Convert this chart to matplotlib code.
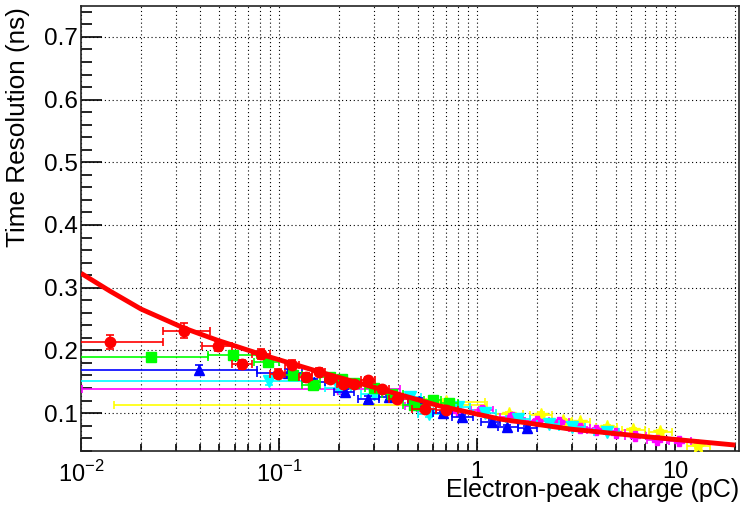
import numpy as np
import matplotlib
matplotlib.use("Agg")
import matplotlib.pyplot as plt
from matplotlib.ticker import FixedLocator, FixedFormatter, MultipleLocator, NullFormatter

plt.rcParams['font.family'] = ['Liberation Sans', 'DejaVu Sans']
plt.rcParams['mathtext.fontset'] = 'custom'
plt.rcParams['mathtext.rm'] = 'Liberation Sans'

# data: x, lower / upper bin edge, y, y error
red_x = [0.014, 0.033, 0.049, 0.065, 0.081, 0.0985, 0.116, 0.137, 0.159, 0.181, 0.21, 0.24, 0.28, 0.33, 0.395, 0.546, 0.70]
red_xlo = [0.005, 0.026, 0.041, 0.058, 0.073, 0.09, 0.107, 0.126, 0.147, 0.17, 0.195, 0.225, 0.26, 0.305, 0.36, 0.47, 0.62]
red_xhi = [0.026, 0.045, 0.058, 0.073, 0.09, 0.107, 0.126, 0.147, 0.17, 0.195, 0.225, 0.26, 0.305, 0.36, 0.45, 0.62, 0.80]
red_y = [0.213, 0.231, 0.207, 0.178, 0.194, 0.163, 0.177, 0.158, 0.166, 0.154, 0.146, 0.146, 0.153, 0.138, 0.123, 0.107, 0.105]
red_ye = [0.011, 0.012, 0.008, 0.007, 0.008, 0.007, 0.007, 0.006, 0.006, 0.006, 0.005, 0.005, 0.005, 0.005, 0.005, 0.004, 0.004]

green_x = [0.0225, 0.0588, 0.088, 0.117, 0.148, 0.18, 0.207, 0.24, 0.30, 0.37, 0.48, 0.6, 0.72]
green_xlo = [0.005, 0.044, 0.075, 0.1, 0.13, 0.16, 0.19, 0.22, 0.27, 0.33, 0.42, 0.54, 0.66]
green_xhi = [0.044, 0.077, 0.1, 0.13, 0.16, 0.19, 0.22, 0.26, 0.33, 0.42, 0.54, 0.66, 0.8]
green_y = [0.189, 0.192, 0.182, 0.160, 0.145, 0.158, 0.155, 0.148, 0.140, 0.130, 0.113, 0.121, 0.116]
green_ye = [0.007, 0.007, 0.006, 0.006, 0.005, 0.005, 0.005, 0.005, 0.005, 0.005, 0.004, 0.004, 0.004]

blue_x = [0.0396, 0.111, 0.15, 0.216, 0.282, 0.36, 0.51, 0.67, 0.843, 1.19, 1.42, 1.78]
blue_xlo = [0.005, 0.077, 0.13, 0.19, 0.25, 0.32, 0.45, 0.6, 0.75, 1.05, 1.28, 1.6]
blue_xhi = [0.077, 0.13, 0.17, 0.24, 0.32, 0.42, 0.6, 0.75, 0.95, 1.3, 1.6, 2.0]
blue_y = [0.169, 0.164, 0.150, 0.134, 0.123, 0.125, 0.120, 0.100, 0.093, 0.086, 0.078, 0.077]
blue_ye = [0.007, 0.006, 0.005, 0.005, 0.005, 0.004, 0.004, 0.004, 0.004, 0.003, 0.003, 0.003]

cyan_x = [0.089, 0.2, 0.3, 0.46, 0.57, 0.8, 1.1, 1.6, 2.3, 3.0, 4.5]
cyan_xlo = [0.005, 0.17, 0.26, 0.4, 0.5, 0.7, 0.95, 1.4, 2.0, 2.6, 3.9]
cyan_xhi = [0.15, 0.23, 0.35, 0.52, 0.65, 0.92, 1.25, 1.85, 2.6, 3.5, 5.2]
cyan_y = [0.151, 0.140, 0.130, 0.126, 0.098, 0.110, 0.100, 0.090, 0.083, 0.078, 0.070]
cyan_ye = [0.006, 0.005, 0.005, 0.004, 0.004, 0.004, 0.004, 0.003, 0.003, 0.003, 0.003]

mag_x = [0.2, 0.5, 0.8, 1.06, 1.5, 2.0, 2.6, 3.3, 4.0, 5.0, 6.3, 8.1, 10.5]
mag_xlo = [0.0101, 0.43, 0.7, 0.93, 1.3, 1.75, 2.3, 2.9, 3.6, 4.5, 5.6, 7.2, 9.3]
mag_xhi = [0.41, 0.58, 0.92, 1.2, 1.7, 2.3, 2.9, 3.7, 4.5, 5.6, 7.1, 9.1, 12.0]
mag_y = [0.139, 0.112, 0.104, 0.105, 0.094, 0.088, 0.086, 0.077, 0.073, 0.069, 0.064, 0.057, 0.055]
mag_ye = [0.005, 0.004, 0.004, 0.004, 0.004, 0.003, 0.003, 0.003, 0.003, 0.003, 0.003, 0.003, 0.003]

yel_x = [0.55, 0.70, 1.45, 2.1, 2.7, 3.3, 4.5, 6.15, 8.4, 13.1]
yel_xlo = [0.0147, 0.55, 1.25, 1.85, 2.4, 2.95, 4.0, 5.4, 7.4, 11.5]
yel_xhi = [1.12, 1.1, 1.7, 2.4, 3.0, 3.7, 5.1, 7.0, 9.6, 15.0]
yel_y = [0.113, 0.118, 0.098, 0.097, 0.087, 0.085, 0.078, 0.073, 0.070, 0.047]
yel_ye = [0.004, 0.005, 0.004, 0.004, 0.004, 0.003, 0.003, 0.003, 0.003, 0.003]

# red fit curve, read at points along it
fit_x = [0.01, 0.0140, 0.0201, 0.0331, 0.0486, 0.0802, 0.161, 0.324, 0.650, 1.307, 2.95, 7.48, 20.1]
fit_y = [0.323, 0.2946, 0.2659, 0.2356, 0.2164, 0.1941, 0.1654, 0.1383, 0.1112, 0.0904, 0.0745, 0.0617, 0.049]

fig = plt.figure(figsize=(7.42, 5.09), dpi=100)
ax = fig.add_axes([0.1092, 0.1139, 0.8868, 0.8752])


def draw(x, xlo, xhi, y, ye, color, marker, ms, z):
    x = np.array(x)
    xerr = [x - np.array(xlo), np.array(xhi) - x]
    ax.errorbar(x, y, xerr=xerr, yerr=ye, fmt=marker, color=color, ms=ms,
                mec=color, mfc=color, elinewidth=1.2, capsize=3, capthick=1.2,
                zorder=z)


draw(yel_x, yel_xlo, yel_xhi, yel_y, yel_ye, '#ffff00', '*', 10, 3)
draw(mag_x, mag_xlo, mag_xhi, mag_y, mag_ye, '#ff00ff', 'P', 7, 4)
draw(cyan_x, cyan_xlo, cyan_xhi, cyan_y, cyan_ye, '#00ffff', 'v', 8, 5)
draw(blue_x, blue_xlo, blue_xhi, blue_y, blue_ye, '#0000ff', '^', 7, 6)
draw(green_x, green_xlo, green_xhi, green_y, green_ye, '#00ff00', 's', 7, 7)
draw(red_x, red_xlo, red_xhi, red_y, red_ye, '#ff0000', 'o', 7.5, 8)

ax.plot(fit_x, fit_y, color='#ff0000', lw=3.5, zorder=9, solid_capstyle='butt')

ax.set_xscale('log')
ax.set_xlim(0.01, 21)
ax.set_ylim(0.0395, 0.75)

ax.xaxis.set_major_locator(FixedLocator([0.01, 0.1, 1, 10]))
ax.xaxis.set_major_formatter(FixedFormatter([r'$10^{-2}$', r'$10^{-1}$', '1', '10']))
minors = [m * d for d in [0.01, 0.1, 1, 10] for m in range(2, 10)]
ax.xaxis.set_minor_locator(FixedLocator(minors))
ax.xaxis.set_minor_formatter(NullFormatter())
ax.yaxis.set_minor_locator(MultipleLocator(0.02))
ax.set_yticks([0.1, 0.2, 0.3, 0.4, 0.5, 0.6, 0.7])
ax.set_yticklabels(['0.1', '0.2', '0.3', '0.4', '0.5', '0.6', '0.7'])

ax.tick_params(axis='both', which='both', direction='in', top=False, right=False,
               colors='black')
ax.tick_params(axis='y', which='major', length=15, width=1.2, pad=2.5, labelsize=17.5)
ax.tick_params(axis='y', which='minor', length=8, width=1.2)
ax.tick_params(axis='x', which='major', length=9.5, width=1.2, pad=7, labelsize=17)
ax.tick_params(axis='x', which='minor', length=4.7, width=1.2)

ax.grid(True, which='major', axis='both', color='black', ls=(0, (1, 2.5)), lw=0.8)
ax.grid(True, which='minor', axis='x', color='black', ls=(0, (1, 2.5)), lw=0.8)
ax.set_axisbelow(True)
for s in ax.spines.values():
    s.set_color('#222222')
    s.set_linewidth(1.2)

ax.set_xlabel('Electron-peak charge (pC)', fontsize=18, ha='right', va='top')
ax.xaxis.set_label_coords(1.0, -0.060)
ax.set_ylabel('Time Resolution (ns)', fontsize=18.8, ha='right', va='bottom')
ax.yaxis.set_label_coords(-0.0775, 0.997)

fig.savefig('out.png', dpi=100)
